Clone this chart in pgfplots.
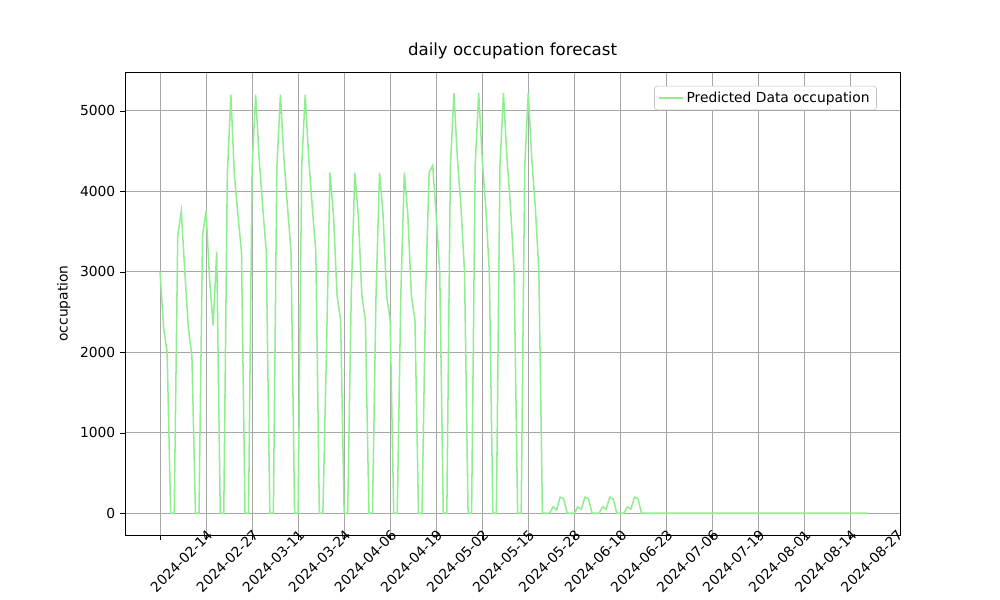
\documentclass[border=0pt]{standalone}
\usepackage{pgfplots}
\pgfplotsset{compat=1.18}
\usepackage{fontspec}
\setmainfont{DejaVu Sans}
\definecolor{lg}{RGB}{144,238,144}
\begin{document}
\begin{tikzpicture}
\clip (-1.25in,-0.65in) rectangle (8.75in,5.35in);
\useasboundingbox (-1.25in,-0.65in) rectangle (8.75in,5.35in);
\begin{axis}[at={(0,0)},anchor=south west,scale only axis,width=7.75in,height=4.63in,
 xmin=-9.9,xmax=209,ymin=-270,ymax=5480,
 xtick={0,13,...,195},
 xticklabels={2024-02-14,2024-02-27,2024-03-11,2024-03-24,2024-04-06,2024-04-19,2024-05-02,2024-05-15,2024-05-28,2024-06-10,2024-06-23,2024-07-06,2024-07-19,2024-08-01,2024-08-14,2024-08-27},
 xticklabel style={rotate=45,anchor=center,yshift=-0.3in,font=\fontsize{10}{12}\selectfont},
 ytick={0,1000,...,5000},
 yticklabel style={font=\fontsize{10}{12}\selectfont},
 /pgf/number format/assume math mode=true,
 /pgf/number format/set thousands separator={},
 grid=major, grid style={gray!70},
 tick style={black}, tick align=outside, tick pos=left, major tick length=3.5pt,
 title={daily occupation forecast}, title style={font=\fontsize{12}{14}\selectfont},
 ylabel={occupation}, ylabel style={font=\fontsize{10}{12}\selectfont},
 legend pos=north east, legend style={font=\fontsize{10}{12}\selectfont,draw=gray!50,rounded corners=2pt},
 legend cell align=left]
\addplot[color=lg,line width=1.1pt] coordinates {
(0,3000)(1,2300)(2,2000)(3,0)(4,0)(5,3450)(6,3750)(7,3000)(8,2300)(9,1950)(10,0)(11,0)
(12,3450)(13,3750)(14,2900)(15,2330)(16,3250)(17,0)(18,0)(19,4200)(20,5200)(21,4200)(22,3700)(23,3250)(24,0)(25,0)
(26,4300)(27,5200)(28,4400)(29,3800)(30,3250)(31,0)(32,0)(33,4300)(34,5200)(35,4400)(36,3800)(37,3250)(38,0)(39,0)
(40,4300)(41,5200)(42,4400)(43,3800)(44,3250)(45,0)(46,0)(47,2000)(48,4230)(49,3700)(50,2700)(51,2400)(52,0)(53,0)
(54,2700)(55,4230)(56,3700)(57,2700)(58,2400)(59,0)(60,0)(61,2700)(62,4230)(63,3700)(64,2700)(65,2400)(66,0)(67,0)
(68,2700)(69,4230)(70,3700)(71,2700)(72,2400)(73,0)(74,0)(75,2700)(76,4230)(77,4320)(78,3700)(79,3000)(80,0)(81,0)
(82,4300)(83,5220)(84,4400)(85,3800)(86,3000)(87,0)(88,0)(89,4300)(90,5220)(91,4400)(92,3800)(93,3000)(94,0)(95,0)
(96,4300)(97,5220)(98,4400)(99,3800)(100,3000)(101,0)(102,0)(103,4300)(104,5220)(105,4400)(106,3800)(107,3000)(108,0)(109,0)
(110,0)(111,80)(112,40)(113,200)(114,180)(115,0)(116,0)(117,0)(118,80)(119,50)(120,200)(121,180)(122,0)(123,0)
(124,0)(125,80)(126,50)(127,200)(128,180)(129,0)(130,0)(131,0)(132,80)(133,50)(134,200)(135,180)(136,0)(137,0)
(150,0)(170,0)(190,0)(200,0)};
\addlegendentry{Predicted Data occupation}
\end{axis}
\end{tikzpicture}
\end{document}
